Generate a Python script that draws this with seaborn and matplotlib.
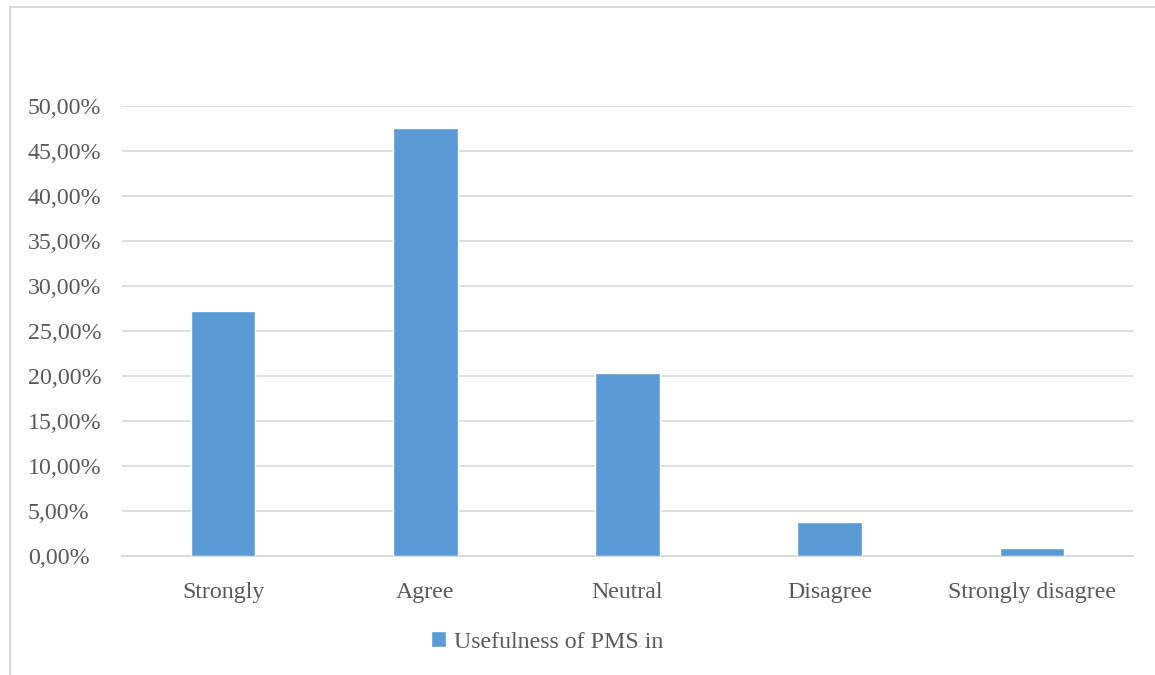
import pandas as pd
import seaborn as sns
from matplotlib import pyplot as plt
from matplotlib.patches import Rectangle
from matplotlib.ticker import FuncFormatter

categories = ['Strongly', 'Agree', 'Neutral', 'Disagree', 'Strongly disagree']
shares = [0.272, 0.476, 0.203, 0.038, 0.009]
series_name = 'Usefulness of PMS in'

df = pd.DataFrame({'answer': categories, 'share': shares})

sns.set_theme(style='white')
plt.rcParams['font.family'] = ['Liberation Serif', 'DejaVu Serif']
txt = '#595959'
grid = '#d9d9d9'
fsize = 17.2

fig = plt.figure(figsize=(11.55, 6.75), dpi=100)
ax = fig.add_axes([122/1155, 1 - 556/675, (1133-122)/1155, (556-106)/675])

sns.barplot(data=df, x='answer', y='share', color='#5B9BD5', saturation=1,
            width=0.32, label=series_name, ax=ax, zorder=3)

ax.set_ylim(0, 0.5)
ax.set_yticks([i * 0.05 for i in range(11)])
ax.yaxis.set_major_formatter(FuncFormatter(lambda v, p: ('%.2f%%' % (v * 100)).replace('.', ',')))
ax.set_xlim(-0.5, 4.5)
ax.yaxis.grid(True, color=grid, linewidth=1.2, zorder=0)
for s in ['top', 'right', 'left']:
    ax.spines[s].set_visible(False)
ax.spines['bottom'].set_color(grid)
ax.spines['bottom'].set_linewidth(1.5)
ax.tick_params(axis='both', length=0, labelsize=fsize, labelcolor=txt)
ax.tick_params(axis='y', pad=94 * 0.72)
ax.tick_params(axis='x', pad=19)
for lab in ax.get_yticklabels():
    lab.set_horizontalalignment('left')
    lab.set_verticalalignment('center_baseline')
ax.set_xlabel('')
ax.set_ylabel('')
if ax.legend_:
    ax.legend_.remove()

leg = fig.legend(loc='center', bbox_to_anchor=(547/1155, 1 - 642/675), frameon=False,
                 fontsize=fsize, handlelength=0.65, handleheight=0.65, handletextpad=0.3)
for t in leg.get_texts():
    t.set_color(txt)

# outer chart frame, cut at right and bottom like the source
fig.patches.append(Rectangle((10/1155, -0.05), 1.2, 1 - 7/675 + 0.05, transform=fig.transFigure,
                             fill=False, edgecolor=grid, linewidth=1.5))

fig.savefig('out.png', dpi=100)
